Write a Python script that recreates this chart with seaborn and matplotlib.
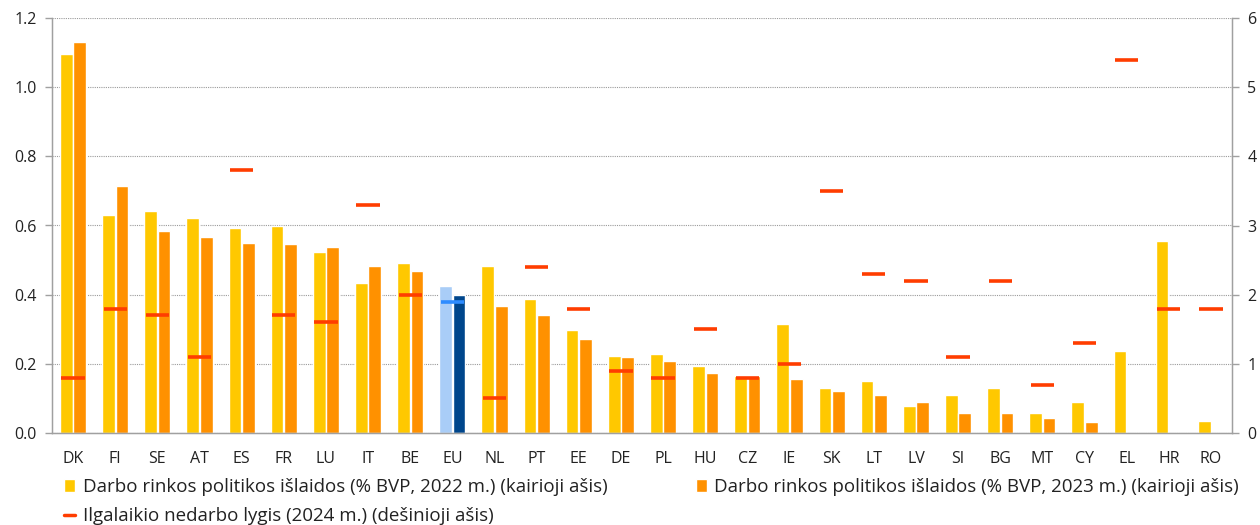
import numpy as np
import pandas as pd
import matplotlib
matplotlib.use('Agg')
import matplotlib.pyplot as plt
import seaborn as sns
from matplotlib.patches import Patch
from matplotlib.lines import Line2D
from matplotlib.ticker import FixedLocator, FormatStrFormatter

countries = ['DK', 'FI', 'SE', 'AT', 'ES', 'FR', 'LU', 'IT', 'BE', 'EU', 'NL', 'PT', 'EE', 'DE',
             'PL', 'HU', 'CZ', 'IE', 'SK', 'LT', 'LV', 'SI', 'BG', 'MT', 'CY', 'EL', 'HR', 'RO']
spend_2022 = [1.095, 0.63, 0.642, 0.622, 0.594, 0.599, 0.522, 0.435, 0.491, 0.424, 0.483, 0.387, 0.297, 0.224,
              0.228, 0.193, 0.166, 0.316, 0.130, 0.150, 0.077, 0.109, 0.130, 0.058, 0.090, 0.237, 0.556, 0.034]
spend_2023 = [1.13, 0.713, 0.583, 0.566, 0.55, 0.546, 0.538, 0.483, 0.467, 0.398, 0.368, 0.341, 0.272, 0.22,
              0.209, 0.173, 0.166, 0.157, 0.121, 0.109, 0.090, 0.058, 0.058, 0.0425, 0.031, np.nan, np.nan, np.nan]
ltu_2024 = [0.8, 1.8, 1.7, 1.1, 3.8, 1.7, 1.6, 3.3, 2.0, 1.9, 0.5, 2.4, 1.8, 0.9,
            0.8, 1.5, 0.8, 1.0, 3.5, 2.3, 2.2, 1.1, 2.2, 0.7, 1.3, 5.4, 1.8, 1.8]

lab_2022 = 'Darbo rinkos politikos išlaidos (% BVP, 2022 m.) (kairioji ašis)'
lab_2023 = 'Darbo rinkos politikos išlaidos (% BVP, 2023 m.) (kairioji ašis)'
lab_ltu = 'Ilgalaikio nedarbo lygis (2024 m.) (dešinioji ašis)'

c_2022 = '#FFC800'
c_2023 = '#FF9100'
c_ltu = '#FF3D00'
c_eu22 = '#A9CDF7'
c_eu23 = '#00468C'
c_eult = '#2E8CFF'

sns.set_style('white')
plt.rcParams['font.family'] = ['Open Sans', 'DejaVu Sans']
txt = '#222222'

df = pd.DataFrame({'country': countries * 2,
                   'value': spend_2022 + spend_2023,
                   'year': ['2022'] * len(countries) + ['2023'] * len(countries)})
df = df.dropna()

fig = plt.figure(figsize=(12.6, 5.25), dpi=100)
ax = fig.add_axes([52 / 1260, 92 / 525, 1180 / 1260, 415 / 525])

sns.barplot(data=df, x='country', y='value', hue='year', order=countries,
            palette=[c_2022, c_2023], width=0.64, gap=0.06, saturation=1,
            legend=False, ax=ax)

# EU bars in blue
eu_i = countries.index('EU')
for cont, col in zip(ax.containers, [c_eu22, c_eu23]):
    for bar in cont:
        if int(round(bar.get_x() + bar.get_width() / 2)) == eu_i:
            bar.set_facecolor(col)

ax.set_xlim(-0.5, len(countries) - 0.5)
ax.set_ylim(0, 1.2)
ax.set_yticks(np.arange(0, 1.21, 0.2))
ax.yaxis.set_major_formatter(FormatStrFormatter('%.1f'))
ax.grid(axis='y', color='#9a9a9a', linestyle=(0, (1, 1)), linewidth=0.8)
ax.set_axisbelow(True)
ax.set_xlabel('')
ax.set_ylabel('')

ax.xaxis.set_minor_locator(FixedLocator(np.arange(-0.5, len(countries), 1)))
ax.tick_params(axis='x', which='major', length=0, pad=13, labelsize=11.5, colors=txt)
ax.tick_params(axis='x', which='minor', length=6, width=1, color='#a0a0a0', direction='out')
ax.tick_params(axis='y', length=5, width=1, color='#a0a0a0', labelsize=11.5, colors=txt, pad=6)

for s in ['left', 'bottom', 'right']:
    ax.spines[s].set_color('#a0a0a0')
    ax.spines[s].set_linewidth(1)
ax.spines['top'].set_visible(False)

ax2 = ax.twinx()
is_eu = [c == 'EU' for c in countries]
sns.scatterplot(x=np.arange(len(countries)), y=ltu_2024, hue=is_eu,
                palette={False: c_ltu, True: c_eult}, marker='_', s=280,
                linewidth=2.6, legend=False, ax=ax2, zorder=5)
ax2.set_ylim(0, 6)
ax2.set_yticks(range(0, 7))
ax2.tick_params(axis='y', length=5, width=1, color='#a0a0a0', labelsize=11.5, colors=txt, pad=6)
for s in ['left', 'bottom', 'right']:
    ax2.spines[s].set_color('#a0a0a0')
ax2.spines['top'].set_visible(False)
ax2.grid(False)
ax2.set_xlim(-0.5, len(countries) - 0.5)

handles = [Patch(facecolor=c_2022, label=lab_2022),
           Line2D([0], [0], color=c_ltu, lw=2.5, label=lab_ltu),
           Patch(facecolor=c_2023, label=lab_2023)]
fig.legend(handles=handles, ncol=2, loc='upper left', bbox_to_anchor=(64 / 1260, 1 - 478 / 525),
           frameon=False, fontsize=13.5, handlelength=0.6, handleheight=0.72, handletextpad=0.4,
           columnspacing=4.7, labelspacing=0.6, labelcolor=txt, borderaxespad=0, borderpad=0)

fig.savefig('out.png', dpi=100)
